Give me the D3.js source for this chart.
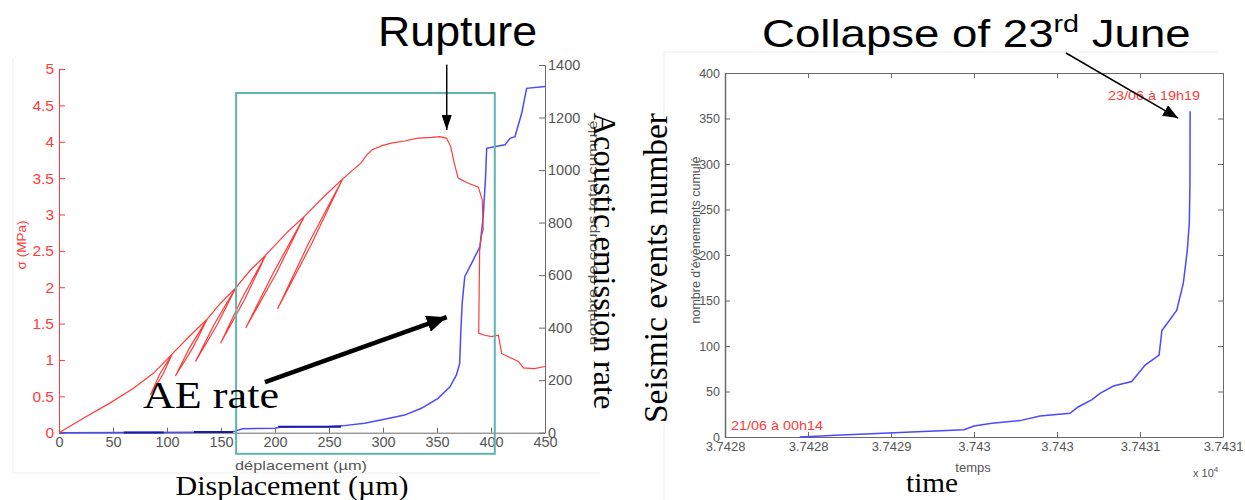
<!DOCTYPE html>
<html>
<head>
<meta charset="utf-8">
<title>Rupture / Collapse</title>
<script src="https://cdn.jsdelivr.net/npm/d3@7/dist/d3.min.js"></script>
<style>
  body { margin: 0; background: #fff; }
  svg text { font-family: "Liberation Sans", Arial, sans-serif; }
  .serif { font-family: "Liberation Serif", "Times New Roman", serif !important; }
  .axGray path, .axGray line { stroke: #6a6a6a; }
  .axGray text { fill: #555; }
  .axRed path, .axRed line { stroke: #ff3b3b; }
  .axRed text { fill: #ff3b3b; }
</style>
</head>
<body>
<svg id="mainsvg" width="1245" height="500"></svg>
<script>
// ---------- left figure : stress and cumulated AE counts vs displacement
const dispStress = [0, 22.6, 47.4, 69, 87.6, 104.7, 96.2, 84.6, 93.1, 104.7,
    121.7, 137.2, 124, 107.8, 121, 137.2,
    149.6, 163.6, 146.5, 126.4, 143.5, 163.6,
    177.5, 191.4, 172, 149.6, 169, 191.4,
    211.6, 227, 201.5, 172.9, 198.5, 227,
    245.6, 262.7, 234, 202.3, 231, 262.7,
    279.7, 285, 290, 300, 307.6, 320, 332.4, 345, 352.5, 358.7, 362.8, 365.9, 369.6, 378.9, 388.2,
    391.9, 392.8, 391, 389.5, 388.6, 394.2, 400.6, 406.8, 409.9, 415, 425.4, 430, 440, 450];
const stress = [0, 0.20, 0.41, 0.61, 0.82, 1.08, 0.80, 0.52, 0.80, 1.08,
    1.34, 1.56, 1.17, 0.78, 1.17, 1.56,
    1.78, 1.99, 1.485, 0.98, 1.485, 1.99,
    2.24, 2.44, 1.835, 1.23, 1.835, 2.44,
    2.76, 2.97, 2.20, 1.44, 2.20, 2.97,
    3.25, 3.49, 2.60, 1.70, 2.60, 3.49,
    3.71, 3.82, 3.89, 3.95, 3.98, 4.01, 4.05, 4.06, 4.07, 4.05, 3.93, 3.71, 3.50, 3.43, 3.38,
    3.20, 2.79, 2.70, 2.50, 1.37, 1.34, 1.32, 1.34, 1.09, 1.05, 0.98, 0.89, 0.88, 0.91];

const dispAE = [0, 60, 130, 160, 163, 170, 200, 205, 250, 262, 283, 298, 320, 335.5, 351,
    362, 368, 371, 372, 373.3, 375.7, 382, 389.7, 392.8, 395, 396, 406.8, 413, 417.6,
    422.2, 428.4, 433, 450];
const aeCount = [0, 1, 2, 3, 6, 15, 17, 22, 24, 26, 36, 48, 67, 93, 131,
    175, 220, 264, 378, 493, 594, 645, 708, 823, 975, 1083, 1092, 1096, 1121,
    1127, 1216, 1311, 1318];
// darker overlapping parts of the AE trace
const retraceStart = [60, 125, 203];
const retraceEnd = [97, 161, 261];
const retraceCount = [1, 3, 23];

const stressTicks = [0, 0.5, 1, 1.5, 2, 2.5, 3, 3.5, 4, 4.5, 5];
const aeTicks = [0, 200, 400, 600, 800, 1000, 1200, 1400];
const dispTicks = [0, 50, 100, 150, 200, 250, 300, 350, 400, 450];
const zoomBoxDisp = [164, 403.5];
const zoomBoxStress = [-0.29, 4.67];

// ---------- right figure : cumulated seismic events vs time (days)
const time = [37428.45, 37428.669, 37429.054, 37429.44, 37429.5, 37429.608, 37429.777,
    37429.898, 37430.078, 37430.127, 37430.211, 37430.259, 37430.34,
    37430.45, 37430.531, 37430.615, 37430.632, 37430.721, 37430.761, 37430.785,
    37430.797, 37430.801, 37430.802];
const events = [0, 2, 5, 8, 12, 15, 18, 23, 26, 33, 41, 48, 56,
    61, 79, 90, 117, 139, 169, 205, 235, 279, 358];
const timeTicks = [37428, 37428.5, 37429, 37429.5, 37430, 37430.5, 37431];
const timeTickLabels = ['3.7428', '3.7428', '3.7429', '3.743', '3.743', '3.7431', '3.7431'];
const eventTicks = [0, 50, 100, 150, 200, 250, 300, 350, 400];

const svg = d3.select('#mainsvg');
const red = '#ff3b3b';
const blue = '#4a4aff';

// faint edges of the pasted figures
svg.append('path').attr('d', 'M13,58V473H600').attr('fill', 'none').attr('stroke', '#ededed');
svg.append('path').attr('d', 'M664,500V52H1218').attr('fill', 'none').attr('stroke', '#ededed');

// ===== left plot
const xD = d3.scaleLinear().domain([0, 450]).range([59, 545]);
const yS = d3.scaleLinear().domain([0, 5]).range([432.7, 69]);
const yC = d3.scaleLinear().domain([0, 1400]).range([432.7, 65]);

const gL = svg.append('g');
gL.append('g').attr('class', 'axGray').attr('transform', `translate(0,${yS(0)})`)
    .call(d3.axisBottom(xD).tickValues(dispTicks).tickSize(-5).tickSizeOuter(0).tickPadding(4))
    .selectAll('text').attr('font-size', 14.5);
gL.append('g').attr('class', 'axGray').attr('transform', `translate(${xD(450)},0)`)
    .call(d3.axisRight(yC).tickValues(aeTicks).tickFormat(d3.format('d')).tickSize(-6).tickSizeOuter(0).tickPadding(3))
    .selectAll('text').attr('font-size', 14.5);
gL.append('g').attr('class', 'axRed').attr('transform', `translate(${xD(0)},0)`)
    .call(d3.axisLeft(yS).tickValues(stressTicks).tickFormat(d => String(d)).tickSize(-6).tickSizeOuter(0).tickPadding(5))
    .selectAll('text').attr('font-size', 15.5);

// AE cumulated counts
const lineAE = d3.line().x(i => xD(dispAE[i])).y(i => yC(aeCount[i]));
gL.append('path').attr('d', lineAE(d3.range(dispAE.length)))
    .attr('fill', 'none').attr('stroke', blue).attr('stroke-width', 1.5);
gL.selectAll('.retrace').data(d3.range(retraceStart.length)).join('line')
    .attr('class', 'retrace')
    .attr('x1', i => xD(retraceStart[i])).attr('x2', i => xD(retraceEnd[i]))
    .attr('y1', i => yC(retraceCount[i])).attr('y2', i => yC(retraceCount[i]))
    .attr('stroke', '#1a1aa8').attr('stroke-width', 2);

// stress curve with load/unload loops
const lineS = d3.line().x(i => xD(dispStress[i])).y(i => yS(stress[i]));
gL.append('path').attr('d', lineS(d3.range(dispStress.length)))
    .attr('fill', 'none').attr('stroke', red).attr('stroke-width', 1.2);

// teal zoom box
gL.append('rect')
    .attr('x', xD(zoomBoxDisp[0])).attr('y', yS(zoomBoxStress[1]))
    .attr('width', xD(zoomBoxDisp[1]) - xD(zoomBoxDisp[0]))
    .attr('height', yS(zoomBoxStress[0]) - yS(zoomBoxStress[1]))
    .attr('fill', 'none').attr('stroke', '#5fb5ad').attr('stroke-width', 2);

gL.append('text').attr('transform', 'translate(26,245) rotate(-90)')
    .attr('text-anchor', 'middle').attr('font-size', 13.5).attr('fill', red).text('σ (MPa)');
gL.append('text').attr('x', 301).attr('y', 470).attr('text-anchor', 'middle')
    .attr('font-size', 13.5).attr('fill', '#555')
    .attr('textLength', 132).attr('lengthAdjust', 'spacingAndGlyphs').text('déplacement (µm)');
gL.append('text').attr('transform', 'translate(597,233) rotate(-90)')
    .attr('text-anchor', 'middle').attr('font-size', 13.5).attr('fill', '#555')
    .attr('textLength', 225).attr('lengthAdjust', 'spacingAndGlyphs').text('nombre de coups total cumulé');

// annotations
const defs = svg.append('defs');
function head(id, w, l) {
    defs.append('marker').attr('id', id).attr('markerUnits', 'userSpaceOnUse')
        .attr('viewBox', `0 ${-w / 2} ${l} ${w}`).attr('refX', l).attr('refY', 0)
        .attr('markerWidth', l).attr('markerHeight', w).attr('orient', 'auto')
        .append('path').attr('d', `M0,${-w / 2}L${l},0L0,${w / 2}Z`).attr('fill', '#000');
}
head('hThin', 10, 15);
head('hThick', 17, 20);
head('hMid', 12, 15);

gL.append('line').attr('x1', xD(359)).attr('y1', yS(5.06)).attr('x2', xD(359)).attr('y2', yS(4.16))
    .attr('stroke', '#000').attr('stroke-width', 1.5).attr('marker-end', 'url(#hThin)');
gL.append('line').attr('x1', xD(190.7)).attr('y1', yC(193)).attr('x2', xD(359)).attr('y2', yC(440))
    .attr('stroke', '#000').attr('stroke-width', 4.5).attr('marker-end', 'url(#hThick)');

gL.append('text').attr('x', 378).attr('y', 46).attr('font-size', 42)
    .attr('textLength', 159).attr('lengthAdjust', 'spacingAndGlyphs').text('Rupture');
gL.append('text').attr('class', 'serif').attr('x', 143).attr('y', 408).attr('font-size', 38)
    .attr('textLength', 136).attr('lengthAdjust', 'spacingAndGlyphs').text('AE rate');
gL.append('text').attr('class', 'serif').attr('transform', 'translate(594,261) rotate(90)')
    .attr('text-anchor', 'middle').attr('font-size', 32)
    .attr('textLength', 297).attr('lengthAdjust', 'spacingAndGlyphs').text('Acoustic emission rate');
gL.append('text').attr('class', 'serif').attr('x', 292).attr('y', 495).attr('text-anchor', 'middle')
    .attr('font-size', 27).attr('textLength', 233).attr('lengthAdjust', 'spacingAndGlyphs')
    .text('Displacement (µm)');

// ===== right plot
const xT = d3.scaleLinear().domain([37428, 37431]).range([725, 1223]);
const yN = d3.scaleLinear().domain([0, 400]).range([437, 73]);
const gR = svg.append('g');

gR.append('g').attr('class', 'axGray').attr('transform', `translate(0,${yN(400)})`)
    .call(d3.axisTop(xT).tickValues(timeTicks).tickFormat('').tickSize(-5).tickSizeOuter(0));
gR.append('g').attr('class', 'axGray').attr('transform', `translate(${xT(37431)},0)`)
    .call(d3.axisRight(yN).tickValues(eventTicks).tickFormat('').tickSize(-5).tickSizeOuter(0));
gR.append('g').attr('class', 'axGray').attr('transform', `translate(0,${yN(0)})`)
    .call(d3.axisBottom(xT).tickValues(timeTicks).tickFormat((d, i) => timeTickLabels[i])
        .tickSize(-5).tickSizeOuter(0).tickPadding(5))
    .selectAll('text').attr('font-size', 13);
const axN = gR.append('g').attr('class', 'axGray').attr('transform', `translate(${xT(37428)},0)`)
    .call(d3.axisLeft(yN).tickValues(eventTicks).tickSize(-5).tickSizeOuter(0).tickPadding(5));
axN.selectAll('text').attr('font-size', 12.5);
axN.select('.domain').attr('stroke', '#7cc0bb').attr('stroke-width', 1.5);

const lineN = d3.line().x(i => xT(time[i])).y(i => yN(events[i]));
gR.append('path').attr('d', lineN(d3.range(time.length)))
    .attr('fill', 'none').attr('stroke', blue).attr('stroke-width', 1.5);

gR.append('text').attr('x', 731).attr('y', 430).attr('font-size', 13.5).attr('fill', red)
    .attr('textLength', 92).attr('lengthAdjust', 'spacingAndGlyphs').text('21/06 à 00h14');
gR.append('text').attr('x', 1108).attr('y', 100).attr('font-size', 13.5).attr('fill', red)
    .attr('textLength', 92).attr('lengthAdjust', 'spacingAndGlyphs').text('23/06 à 19h19');

gR.append('text').attr('x', 973).attr('y', 472).attr('text-anchor', 'middle')
    .attr('font-size', 13).attr('fill', '#555').text('temps');
const x10 = gR.append('text').attr('x', 1193).attr('y', 477).attr('font-size', 11).attr('fill', '#555');
x10.append('tspan').text('x 10');
x10.append('tspan').attr('dy', -5).attr('font-size', 8).text('4');

gR.append('text').attr('transform', 'translate(700,240) rotate(-90)')
    .attr('text-anchor', 'middle').attr('font-size', 13).attr('fill', '#555')
    .attr('textLength', 167).attr('lengthAdjust', 'spacingAndGlyphs').text("nombre d'évènements cumulé");
gR.append('text').attr('class', 'serif').attr('transform', 'translate(667,268) rotate(-90)')
    .attr('text-anchor', 'middle').attr('font-size', 33)
    .attr('textLength', 310).attr('lengthAdjust', 'spacingAndGlyphs').text('Seismic events number');
gR.append('text').attr('class', 'serif').attr('x', 932).attr('y', 492).attr('text-anchor', 'middle')
    .attr('font-size', 27).attr('textLength', 52).attr('lengthAdjust', 'spacingAndGlyphs').text('time');

gR.append('line').attr('x1', xT(37430.054)).attr('y1', yN(422)).attr('x2', xT(37430.729)).attr('y2', yN(350.5))
    .attr('stroke', '#000').attr('stroke-width', 1.5).attr('marker-end', 'url(#hMid)');

const title = gR.append('text').attr('transform', 'translate(762,47) scale(1.2,1)').attr('font-size', 38);
title.append('tspan').text('Collapse of 23');
title.append('tspan').attr('dy', -15).attr('font-size', 24).text('rd');
title.append('tspan').attr('dy', 15).text(' June');
</script>
</body>
</html>
